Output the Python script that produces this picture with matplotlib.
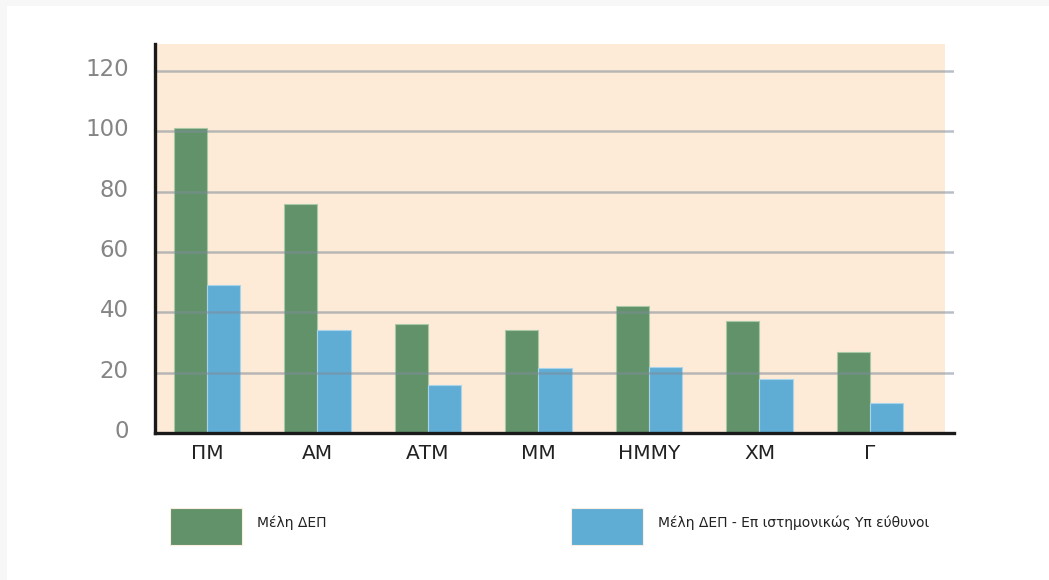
import matplotlib
matplotlib.use("Agg")
import matplotlib.pyplot as plt
from matplotlib.patches import Rectangle
import matplotlib.transforms as mtransforms
import numpy as np

categories = ["ΠΜ", "ΑΜ", "ΑΤΜ", "ΜΜ", "ΗΜΜΥ", "ΧΜ", "Γ"]
members = [101, 76, 36, 34, 42, 37, 27]
responsible = [49, 34, 16, 21.5, 22, 18, 10]
series_names = ["Μέλη ΔΕΠ", "Μέλη ΔΕΠ - Επ ιστημονικώς Υπ εύθυνοι"]
yticks = [0, 20, 40, 60, 80, 100, 120]

green = "#62926a"
blue = "#5fadd5"
bg = "#fdebd8"

W, H = 1049, 580
fig = plt.figure(figsize=(W / 100, H / 100), dpi=100)
fig.patch.set_facecolor("white")
# faint card shadow
fig.patches.append(Rectangle((0, 0), 1, 1, transform=fig.transFigure,
                             facecolor="#f7f7f7", edgecolor="none", zorder=-10))
fig.patches.append(Rectangle((7 / W, 0), 1, 1 - 6 / H, transform=fig.transFigure,
                             facecolor="white", edgecolor="none", zorder=-9))

ax_l, ax_r, ax_t, ax_b = 155, 954, 44, 433
ax = fig.add_axes([ax_l / W, (H - ax_b) / H, (ax_r - ax_l) / W, (ax_b - ax_t) / H])
ax.set_facecolor("none")
ax.add_patch(Rectangle((0, 0), (945 - ax_l) / (ax_r - ax_l), 1, transform=ax.transAxes,
                       facecolor=bg, edgecolor="none", zorder=0))

x = np.arange(len(categories))
w = 0.3
ax.bar(x - w / 2, members, width=w, color=green, edgecolor="#a9c8a6", linewidth=0.8, zorder=2)
ax.bar(x + w / 2, responsible, width=w, color=blue, edgecolor="#a8d3ea", linewidth=0.8, zorder=2)

for v in yticks[1:]:
    ax.axhline(v, color="#7f8c99", linewidth=1.8, alpha=0.55, zorder=3)

ax.set_xlim(-0.47, 6.76)
ax.set_ylim(0, 129)
ax.set_yticks(yticks)
ax.set_yticklabels([str(v) for v in yticks], fontsize=16.5, color="#858585")
ax.set_xticks(x)
ax.set_xticklabels(categories, fontsize=14.5, color="#222222")
ax.tick_params(axis="both", length=0)
ax.tick_params(axis="y", pad=19)
ax.tick_params(axis="x", pad=8)
offset = mtransforms.ScaledTranslation(0, 4 / 100, fig.dpi_scale_trans)
for lab in ax.get_yticklabels():
    lab.set_transform(lab.get_transform() + offset)
for s in ["top", "right"]:
    ax.spines[s].set_visible(False)
for s in ["left", "bottom"]:
    ax.spines[s].set_color("#1a1a1a")
    ax.spines[s].set_linewidth(2.4)
    ax.spines[s].set_zorder(5)

# legend
leg_font = ["Liberation Sans Narrow", "DejaVu Sans Condensed", "DejaVu Sans"]
items = [(170, green, series_names[0]), (571, blue, series_names[1])]
for x0, col, name in items:
    fig.patches.append(Rectangle((x0 / W, (H - 545) / H), 72 / W, 37 / H,
                                 transform=fig.transFigure, facecolor=col,
                                 edgecolor="#fbeee0", linewidth=0.8))
    fig.text((x0 + 87) / W, (H - 523) / H, name, fontsize=10, color="#222222",
             family=leg_font, va="center", ha="left")

fig.savefig("out.png", dpi=100)
